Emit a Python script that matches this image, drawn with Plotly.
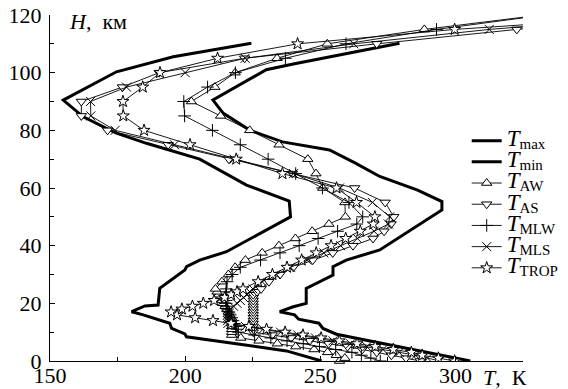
import plotly.graph_objects as go

# Altitude grid, km
H = [0, 1, 2, 3, 4, 5, 6, 7, 8, 9, 10, 11, 12, 13, 14, 15, 16, 17, 18, 19, 20,
     21, 22, 23, 24, 25, 27.5, 30, 32.5, 35, 37.5, 40, 42.5, 45, 47.5, 50,
     55, 60, 65, 70, 75, 80, 85, 90, 95, 100, 105, 110, 115, 120]

T_AW = [257.1, 259.1, 255.9, 252.7, 247.7, 240.9, 234.1, 227.3, 220.6, 217.2,
        217.2, 217.2, 217.2, 217.2, 217.2, 217.2, 216.6, 216.0, 215.4, 214.8,
        214.1, 213.6, 213.0, 212.4, 211.8, 211.2, 213.6, 216.0, 218.5, 222.3,
        228.5, 234.7, 240.8, 247.0, 253.2, 259.3, 259.1, 250.9, 248.4, 245.4,
        234.7, 223.9, 213.1, 202.3, 211.0, 218.5, 234.0, 252.6, 288.5, 331.6]

T_AS = [287.0, 281.7, 276.3, 270.9, 265.5, 260.1, 253.1, 246.1, 239.2, 232.2,
        225.2, 225.2, 225.2, 225.2, 225.2, 225.2, 225.2, 225.2, 225.2, 225.2,
        225.2, 225.2, 225.2, 225.2, 226.6, 228.1, 231.0, 235.1, 240.0, 247.2,
        254.6, 262.1, 269.5, 273.6, 276.2, 277.2, 274.0, 262.7, 239.7, 216.2,
        193.7, 171.3, 161.6, 161.6, 176.8, 190.4, 222.0, 270.9, 322.7, 380.0]

T_MLW = [272.2, 268.7, 265.2, 261.7, 255.7, 249.7, 243.7, 237.7, 231.7, 225.7,
         219.7, 219.2, 218.7, 218.2, 217.7, 217.2, 216.7, 216.2, 215.7, 215.2,
         215.2, 215.2, 215.2, 215.2, 215.2, 215.2, 215.5, 217.4, 220.4, 227.9,
         235.1, 242.2, 249.2, 256.4, 263.5, 265.7, 260.6, 250.8, 240.9, 230.7,
         220.4, 210.1, 199.8, 199.5, 208.3, 218.6, 237.1, 259.5, 293.0, 333.0]

T_MLS = [294.2, 289.7, 285.2, 279.2, 273.2, 267.2, 261.2, 254.7, 248.2, 241.7,
         235.3, 228.8, 222.3, 215.8, 215.7, 215.7, 215.7, 215.7, 216.8, 217.9,
         219.2, 220.4, 221.6, 222.8, 223.9, 225.1, 228.5, 233.7, 239.0, 245.2,
         251.3, 257.5, 263.7, 269.9, 275.2, 275.7, 269.3, 257.1, 240.1, 218.1,
         196.1, 174.1, 165.1, 165.0, 178.3, 200.0, 222.2, 262.4, 312.5, 380.0]

T_TROP = [299.7, 293.7, 287.7, 283.7, 277.0, 270.3, 263.6, 257.0, 250.3, 243.6,
          237.0, 230.1, 223.6, 217.0, 210.3, 203.7, 197.0, 194.8, 198.8, 202.7,
          206.7, 210.7, 214.6, 217.0, 219.2, 221.4, 227.0, 232.3, 237.7, 243.1,
          248.5, 254.0, 259.4, 264.8, 269.6, 270.2, 263.4, 256.0, 236.0, 218.9,
          201.8, 184.8, 177.1, 177.0, 184.3, 190.7, 212.0, 241.6, 299.7, 380.0]

# Envelopes
H_max = [0, 9.3, 11.3, 13.1, 14.5, 16, 17.1, 18.8, 20, 25.2, 29.8, 32.7, 35,
         38.5, 52.4, 55.3, 59.3, 64, 68.6, 73.2, 76, 80, 86, 90.5, 101, 103, 110.2]
T_max = [305.5, 256, 251, 249.5, 242, 240.5, 235, 240, 244.8, 244.8, 254.7, 254.7,
         259.6, 272, 295, 295, 286, 272, 263, 253.4, 236, 224, 214, 210.3, 230,
         240, 279.3]

H_min = [0, 3.5, 8.4, 9.4, 11.3, 13.1, 16, 17.1, 19.1, 19.4, 25.2, 31.6, 32.7,
         35, 37.9, 50, 55.5, 61, 70, 73.2, 75.5, 79, 84.7, 90.5, 100.3, 105.5, 110.2]
T_min = [250.5, 237.5, 200.5, 199.9, 195, 194.3, 184.5, 180.2, 185.1, 190, 190.6,
         199.9, 200.5, 205.4, 215.3, 239, 238.5, 222.7, 205.4, 194.3, 185.7, 174.6,
         162.3, 154.9, 174.6, 195.6, 224.5]

FONT = "Liberation Serif"


def lab(sub):
    return ('<span style="font-size:23px"><i>T</i></span>'
            '<sub><span style="font-size:15px">' + sub + '</span></sub>')


fig = go.Figure()
fig.add_trace(go.Scatter(x=T_max, y=H_max, mode="lines", name=lab("max"),
                         line=dict(color="black", width=3)))
fig.add_trace(go.Scatter(x=T_min, y=H_min, mode="lines", name=lab("min"),
                         line=dict(color="black", width=3)))

series = [
    (T_AW, "AW", "triangle-up", True),
    (T_AS, "AS", "triangle-down", False),
    (T_MLW, "MLW", "cross-thin", False),
    (T_MLS, "MLS", "x-thin", False),
    (T_TROP, "TROP", "star", False),
]
for vals, sub, sym, noclip in series:
    fig.add_trace(go.Scatter(
        x=vals, y=H, mode="lines+markers", name=lab(sub),
        cliponaxis=not noclip,
        line=dict(color="black", width=0.9),
        marker=dict(symbol=sym, size=9, color="white",
                    line=dict(color="black", width=1))))

fig.update_layout(
    width=568, height=389,
    margin=dict(l=50, r=45, t=15, b=28, autoexpand=False),
    paper_bgcolor="white", plot_bgcolor="white",
    font=dict(family=FONT, color="black", size=21),
    showlegend=True,
    legend=dict(x=0.881, y=0.682, xanchor="left", yanchor="top",
                bgcolor="rgba(0,0,0,0)", font=dict(size=14, family=FONT),
                tracegroupgap=0),
    annotations=[
        dict(text="<i>H</i>,&#160;&#160;км", x=0.036, y=0.98, xref="paper", yref="paper",
             xanchor="left", yanchor="middle", showarrow=False,
             font=dict(size=22, family=FONT)),
        dict(text="<i>T</i>,&#160;&#160;К", x=0.911, y=-0.048, xref="paper", yref="paper",
             xanchor="left", yanchor="middle", showarrow=False,
             font=dict(size=22, family=FONT)),
    ],
)
fig.update_xaxes(range=[150, 325], tick0=150, dtick=50, ticks="inside", ticklen=5,
                 tickwidth=1, tickcolor="black", showline=True, linecolor="black",
                 linewidth=1.3, showgrid=False, zeroline=False, automargin=False,
                 tickfont=dict(size=22, family=FONT), ticklabelstandoff=-6,
                 minor=dict(dtick=25, ticks="inside", ticklen=4, tickcolor="black"))
fig.update_yaxes(range=[0, 120], tick0=0, dtick=20, ticks="inside", ticklen=5,
                 tickwidth=1, tickcolor="black", showline=True, linecolor="black",
                 linewidth=1.3, showgrid=False, zeroline=False, automargin=False,
                 tickfont=dict(size=22, family=FONT), ticklabelstandoff=3,
                 minor=dict(dtick=10, ticks="inside", ticklen=4, tickcolor="black"))

fig.write_html("out.html")
